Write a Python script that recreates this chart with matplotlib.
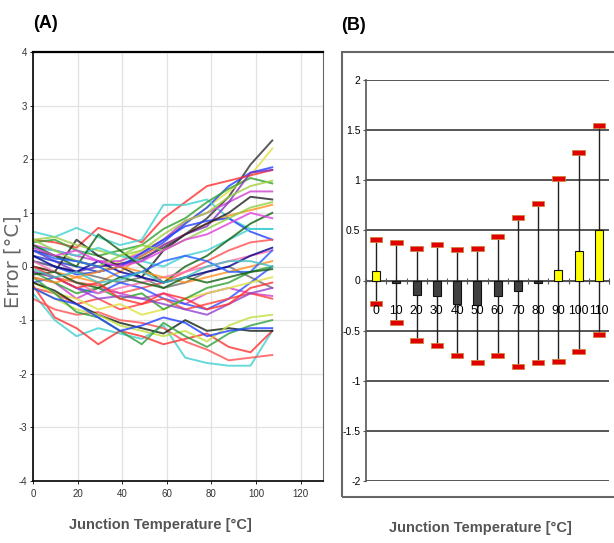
import matplotlib
matplotlib.use("Agg")
import matplotlib.pyplot as plt
from matplotlib.patches import Rectangle
import numpy as np

plt.rcParams["axes.unicode_minus"] = False

# ---------------- Panel A data ----------------
temps_a = [0, 9.75, 19.5, 29.25, 39, 48.75, 58.5, 68.25, 78, 87.75, 97.5, 107.25]

err_01 = [0.3, 0.2, 0.1, 0.0, 0.05, 0.15, 0.35, 0.6, 0.9, 1.3, 1.9, 2.35]
err_02 = [0.2, 0.1, 0.0, -0.1, 0.1, 0.3, 0.5, 0.8, 1.1, 1.4, 1.7, 2.2]
err_03 = [0.1, 0.0, -0.15, -0.1, 0.0, 0.2, 0.45, 0.8, 1.1, 1.5, 1.75, 1.85]
err_04 = [0.5, 0.45, 0.35, 0.72, 0.6, 0.45, 0.9, 1.2, 1.5, 1.6, 1.7, 1.8]
err_05 = [0.65, 0.55, 0.72, 0.55, 0.4, 0.5, 1.15, 1.15, 1.25, 0.9, 0.7, 0.7]
err_06 = [0.4, 0.3, 0.2, 0.1, 0.1, 0.25, 0.5, 0.85, 1.0, 1.2, 1.4, 1.4]
err_07 = [0.45, 0.5, 0.3, 0.2, 0.3, 0.4, 0.7, 0.9, 1.2, 1.45, 1.65, 1.55]
err_08 = [0.0, -0.1, -0.2, -0.3, -0.1, 0.2, 0.4, 0.6, 0.8, 0.95, 1.05, 1.15]
err_09 = [0.3, 0.1, -0.1, 0.0, 0.05, 0.1, 0.4, 0.6, 0.75, 1.2, 1.75, 1.8]
err_10 = [0.2, 0.1, 0.0, -0.1, 0.0, 0.25, 0.5, 0.75, 0.85, 0.9, 0.65, 0.5]
err_11 = [-0.1, -0.2, -0.3, -0.35, -0.5, -0.4, -0.3, -0.1, 0.1, 0.3, 0.45, 0.5]
err_12 = [0.0, -0.1, 0.5, 0.2, 0.0, -0.2, 0.3, 0.6, 0.8, 1.0, 1.3, 1.25]
err_13 = [0.5, 0.55, 0.4, 0.3, 0.2, 0.3, 0.6, 0.85, 1.0, 1.3, 1.5, 1.6]
err_14 = [0.35, 0.3, 0.2, 0.35, 0.2, 0.1, 0.0, 0.2, 0.3, 0.5, 0.7, 0.7]
err_15 = [0.4, 0.2, 0.0, 0.6, 0.3, 0.0, -0.3, 0.0, 0.2, 0.5, 0.8, 1.0]
err_16 = [0.1, 0.0, -0.1, -0.2, -0.3, -0.2, -0.4, -0.3, -0.1, 0.0, -0.2, -0.4]
err_17 = [-0.2, -0.3, -0.6, -0.4, -0.5, -0.6, -0.5, -0.7, -0.5, -0.4, -0.5, -0.55]
err_18 = [-0.3, -0.2, -0.4, -0.5, -0.3, -0.4, -0.6, -0.7, -0.8, -0.6, -0.3, 0.0]
err_19 = [-0.4, -0.5, -0.7, -0.6, -0.8, -0.7, -0.6, -0.8, -0.7, -0.6, -0.5, -0.6]
err_20 = [-0.3, -0.5, -0.6, -0.8, -0.7, -0.9, -0.8, -0.6, -0.5, -0.4, -0.3, -0.2]
err_21 = [-0.1, -0.3, -0.5, -0.4, -0.6, -0.5, -0.8, -0.6, -0.4, -0.3, -0.1, 0.0]
err_22 = [-0.5, -1.0, -1.3, -1.15, -1.25, -1.35, -1.1, -1.7, -1.8, -1.85, -1.85, -1.2]
err_23 = [-0.35, -0.95, -1.15, -1.45, -1.2, -1.3, -1.45, -1.35, -1.25, -1.5, -1.6, -1.2]
err_24 = [-0.6, -0.8, -0.9, -0.85, -1.0, -1.05, -1.15, -1.4, -1.55, -1.75, -1.7, -1.65]
err_25 = [-0.3, -0.45, -0.7, -0.9, -1.05, -1.15, -1.25, -1.0, -1.2, -1.15, -1.2, -1.2]
err_26 = [-0.4, -0.6, -0.8, -0.9, -1.1, -1.2, -1.3, -1.2, -1.4, -1.1, -0.95, -0.9]
err_27 = [-0.2, -0.5, -0.85, -0.95, -1.2, -1.45, -1.05, -1.3, -1.5, -1.25, -1.1, -1.0]
err_28 = [-0.4, -0.6, -0.7, -0.95, -1.2, -1.1, -0.95, -1.05, -1.3, -1.2, -1.15, -1.15]
err_29 = [-0.1, -0.2, -0.4, -0.6, -0.55, -0.6, -0.7, -0.8, -0.9, -0.7, -0.5, -0.4]
err_30 = [0.1, -0.1, -0.3, -0.5, -0.4, -0.3, -0.2, -0.1, 0.0, 0.1, 0.2, 0.3]
err_31 = [0.2, 0.0, -0.1, 0.1, -0.1, -0.2, -0.3, -0.2, -0.1, 0.0, 0.2, 0.35]
err_32 = [-0.2, -0.3, -0.2, -0.1, 0.0, -0.1, -0.2, -0.3, -0.2, -0.1, 0.0, 0.1]
err_33 = [0.5, 0.3, 0.1, 0.0, 0.2, 0.4, 0.3, 0.5, 0.7, 0.9, 1.1, 1.2]
err_34 = [0.3, 0.15, 0.1, 0.0, -0.2, -0.1, 0.1, 0.2, 0.1, -0.1, -0.1, 0.3]
err_35 = [-0.15, -0.1, -0.3, -0.4, -0.2, -0.3, -0.4, -0.2, -0.3, -0.2, -0.1, -0.05]
err_36 = [0.0, -0.2, -0.4, -0.3, -0.6, -0.7, -0.5, -0.6, -0.8, -0.7, -0.4, -0.3]
err_37 = [0.35, 0.2, 0.3, 0.1, 0.0, 0.1, 0.3, 0.5, 0.6, 0.8, 1.0, 0.9]
err_38 = [-0.05, -0.2, -0.1, -0.3, -0.25, -0.1, -0.3, -0.2, 0.0, 0.1, 0.1, 0.0]

series_a = [err_01, err_02, err_03, err_04, err_05, err_06, err_07, err_08, err_09, err_10,
            err_11, err_12, err_13, err_14, err_15, err_16, err_17, err_18, err_19, err_20,
            err_21, err_22, err_23, err_24, err_25, err_26, err_27, err_28, err_29, err_30,
            err_31, err_32, err_33, err_34, err_35, err_36, err_37, err_38]
colors_a = ["#303030", "#e0e040", "#2040ff", "#ff3030", "#40d0d0", "#d040d0", "#30a030",
            "#ff9020", "#8030c0", "#2040ff", "#ff5050", "#202020", "#a0d040", "#40d0d0",
            "#106010", "#707070", "#d040d0", "#3050ff", "#ff4040", "#e0e040", "#30a030",
            "#40d0d0", "#ff3030", "#ff5050", "#102010", "#c0e040", "#30a040", "#2040ff",
            "#9040d0", "#ff70b0", "#000090", "#ff9020", "#90d040", "#2060ff", "#106010",
            "#ff3030", "#e040e0", "#40c0c0"]

# ---------------- Panel B data ----------------
categories_b = ["0", "10", "20", "30", "40", "50", "60", "70", "80", "90", "100", "110"]
mean_b = [0.09, -0.02, -0.14, -0.15, -0.23, -0.24, -0.15, -0.10, -0.02, 0.10, 0.29, 0.50]
max_b = [0.41, 0.38, 0.32, 0.36, 0.31, 0.32, 0.44, 0.63, 0.77, 1.02, 1.28, 1.55]
min_b = [-0.23, -0.42, -0.60, -0.65, -0.75, -0.82, -0.75, -0.86, -0.82, -0.81, -0.71, -0.54]
yticks_b = [2, 1.5, 1, 0.5, 0, -0.5, -1, -1.5, -2]

narrow = ["Liberation Sans", "DejaVu Sans"]

fig = plt.figure(figsize=(6.14, 5.43), dpi=100)

# ---------- Panel A ----------
axA = fig.add_axes([33/614, 1-481/543, 290/614, (481-52)/543])
for ys, c in zip(series_a, colors_a):
    axA.plot(temps_a, ys, color=c, lw=1.4, alpha=0.8)
axA.set_xlim(0, 130)
axA.set_ylim(-4, 4)
axA.set_xticks(np.arange(0, 121, 20))
axA.set_yticks(np.arange(-4, 5, 1))
axA.grid(True, color="#e2e2e2", lw=0.9)
axA.set_axisbelow(True)
for lab in axA.get_xticklabels() + axA.get_yticklabels():
    lab.set_family(narrow)
    lab.set_fontsize(7)
    lab.set_color("#333333")
axA.tick_params(length=2, width=0.6, pad=2)
axA.tick_params(axis="x", pad=4)
axA.spines["top"].set_linewidth(1.6)
axA.spines["left"].set_linewidth(1.2)
axA.spines["bottom"].set_linewidth(1.2)
axA.spines["right"].set_color("#666666")

fig.text(13/614, 1-262/543, "Error [°C]", rotation=90, ha="center", va="center",
         fontsize=14, color="#666666")
fig.text(160/614, 1-525/543, "Junction Temperature [°C]", ha="center", va="center",
         fontsize=10.5, color="#555555", family=narrow, fontweight="bold")
fig.text(45/614, 1-24/543, "(A)", ha="center", va="center", fontsize=13,
         family=narrow, fontweight="bold")

# ---------- Panel B ----------
fig.patches.append(Rectangle((342/614, 1-497/543), 1.0, (497-52)/543,
                             transform=fig.transFigure, fill=False,
                             edgecolor="#666666", lw=1.5))
axB = fig.add_axes([366/614, 1-481/543, 243/614, (481-80)/543])
xpos = np.arange(len(categories_b))
axB.set_xlim(-0.5, len(categories_b) - 0.5)
axB.set_ylim(-2, 2)
for yv in yticks_b:
    axB.axhline(yv, color="#555555", lw=1.4, zorder=1)
axB.vlines(xpos, min_b, max_b, color="#222222", lw=1.0, zorder=2)
bar_colors = ["#ffff00" if v > 0 else "#404040" for v in mean_b]
axB.bar(xpos, mean_b, width=0.4, color=bar_colors, edgecolor="#111111", lw=0.8, zorder=3)
axB.bar(xpos, [0.05] * len(max_b), bottom=np.array(max_b) - 0.025, width=0.62,
        color="#e00000", edgecolor="#d08040", lw=0.6, zorder=4)
axB.bar(xpos, [0.05] * len(min_b), bottom=np.array(min_b) - 0.025, width=0.62,
        color="#e00000", edgecolor="#d08040", lw=0.6, zorder=4)
for xp, lab in zip(xpos, categories_b):
    axB.text(xp, -0.3, lab, ha="center", va="center", fontsize=8.8, family=narrow, zorder=5)
for s in ["top", "right"]:
    axB.spines[s].set_visible(False)
axB.spines["bottom"].set_position(("data", 0))
axB.spines["bottom"].set_color("#555555")
axB.spines["left"].set_color("#555555")
axB.spines["left"].set_linewidth(1.2)
axB.set_xticks(np.arange(-0.5, len(categories_b), 0.5))
axB.set_xticklabels([])
axB.tick_params(axis="x", direction="inout", length=5, width=0.8, color="#555555")
axB.set_yticks(yticks_b)
axB.set_yticklabels([("%g" % v) for v in yticks_b])
for lab in axB.get_yticklabels():
    lab.set_family(narrow)
    lab.set_fontsize(7.5)
axB.tick_params(axis="y", length=2, color="#555555", pad=2)

fig.text(480/614, 1-528/543, "Junction Temperature [°C]", ha="center", va="center",
         fontsize=10.5, color="#555555", family=narrow, fontweight="bold")
fig.text(353/614, 1-26/543, "(B)", ha="center", va="center", fontsize=13,
         family=narrow, fontweight="bold")

fig.savefig("out.png", dpi=100)
